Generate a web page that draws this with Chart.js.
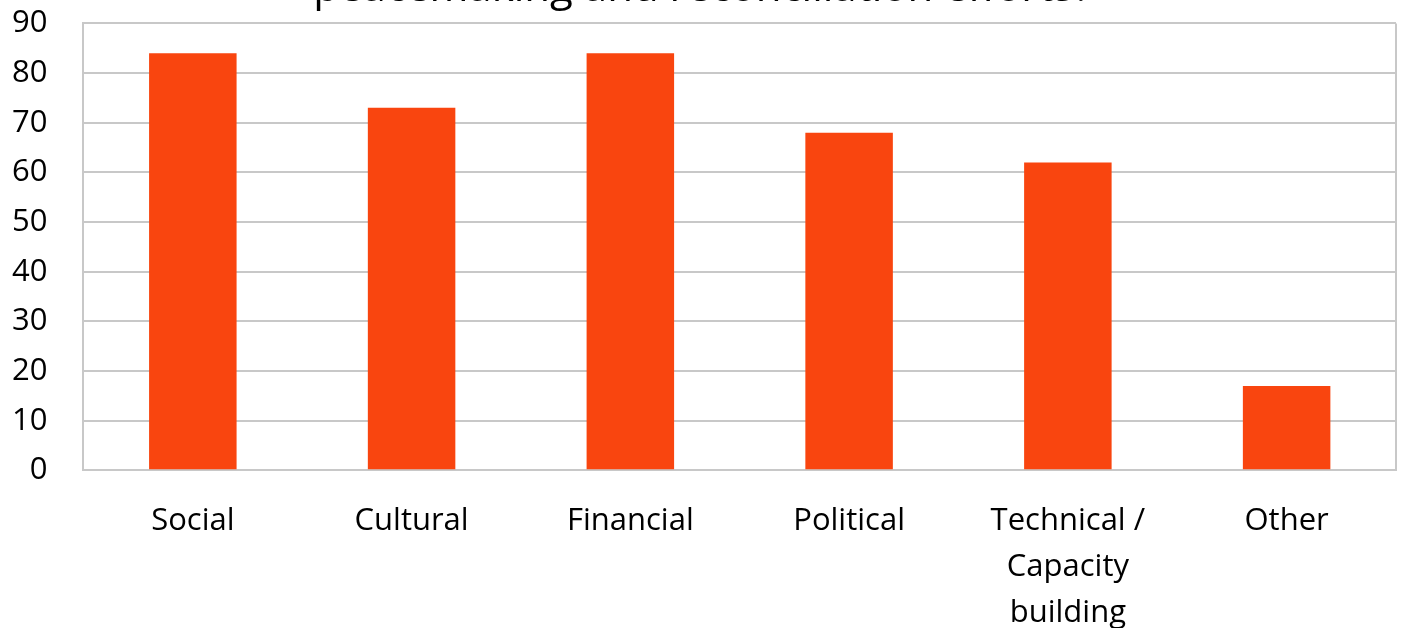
<!DOCTYPE html>
<html>
<head>
<meta charset="utf-8">
<script src="https://cdn.jsdelivr.net/npm/chart.js@4/dist/chart.umd.min.js"></script>
<style>
  html, body { margin: 0; padding: 0; background: #fff; overflow: hidden; }
  #wrap { position: relative; width: 1403px; height: 628px; overflow: hidden; }
  #box { position: absolute; left: 0; top: -40px; width: 1403px; height: 668px; }
</style>
</head>
<body>
<div id="wrap"><div id="box"><canvas id="chart"></canvas></div></div>
<script>
var categories = [['Social'], ['Cultural'], ['Financial'], ['Political'], ['Technical /', 'Capacity', 'building'], ['Other']];
var values = [84, 73, 84, 68, 62, 17];
var yTicks = [0, 10, 20, 30, 40, 50, 60, 70, 80, 90];
var titleText = '\u00a0\u00a0\u00a0peacemaking and reconciliation efforts?';

var fontFamily = '"Open Sans", "Noto Sans", sans-serif';

// right-hand edge of the plot box
var frame = {
    id: 'frame',
    afterDatasetsDraw: function(chart) {
        var a = chart.chartArea, c = chart.ctx;
        c.save();
        c.strokeStyle = '#c8c8c8';
        c.lineWidth = 2;
        c.beginPath();
        c.moveTo(a.right, a.top);
        c.lineTo(a.right, a.bottom);
        c.stroke();
        c.restore();
    }
};

var ctx = document.getElementById('chart').getContext('2d');
var chart = new Chart(ctx, {
    type: 'bar',
    data: {
        labels: categories,
        datasets: [{
            data: values,
            backgroundColor: '#F9450F',
            barPercentage: 0.4,
            categoryPercentage: 1
        }]
    },
    options: {
        responsive: true,
        maintainAspectRatio: false,
        animation: false,
        layout: { padding: { left: -24, right: 7, top: 0, bottom: -28 } },
        plugins: {
            legend: { display: false },
            tooltip: { enabled: false },
            title: {
                display: true,
                text: titleText,
                color: '#000',
                font: { family: fontFamily, size: 42, weight: 'normal' },
                padding: { top: 4, bottom: 9 }
            }
        },
        scales: {
            x: {
                grid: { display: false },
                border: { color: '#c8c8c8', width: 2 },
                ticks: {
                    color: '#000',
                    padding: 20,
                    maxRotation: 0,
                    autoSkip: false,
                    font: { family: fontFamily, size: 31, lineHeight: 1.48 }
                }
            },
            y: {
                min: 0,
                max: 90,
                afterBuildTicks: function(axis) {
                    axis.ticks = yTicks.map(function(v) { return { value: v }; });
                },
                grid: { color: '#c8c8c8', lineWidth: 2, drawTicks: false },
                border: { color: '#c8c8c8', width: 2 },
                ticks: {
                    color: '#000',
                    padding: 36,
                    font: { family: fontFamily, size: 31 }
                }
            }
        }
    },
    plugins: [frame]
});
</script>
</body>
</html>
